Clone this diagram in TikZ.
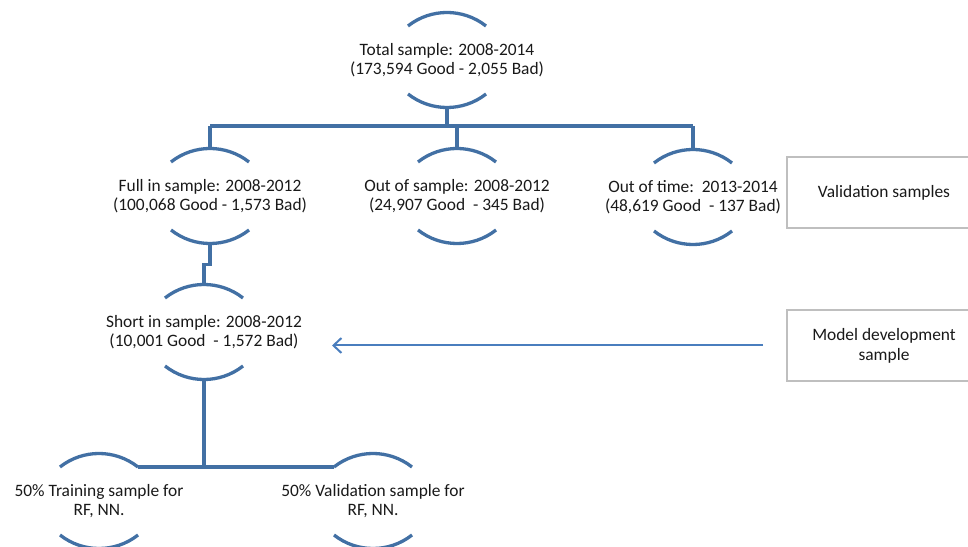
\documentclass[tikz,border=0pt]{standalone}
\usepackage{fontspec}
\setmainfont{Carlito}
\usetikzlibrary{calc,arrows.meta}
\definecolor{linkblue}{RGB}{66,112,164}
\definecolor{arrowblue}{RGB}{74,126,190}
\definecolor{boxgray}{RGB}{191,191,191}
\definecolor{txt}{RGB}{25,25,25}
\begin{document}
\begin{tikzpicture}[x=1pt,y=1pt,
  samp/.style={align=center, inner sep=0pt, minimum height=95pt, minimum width=80pt,
    text=txt, font=\fontsize{17.4}{18.6}\selectfont},
  infobox/.style={draw=boxgray, line width=1.3pt, minimum width=194pt, minimum height=71pt,
    align=center, text=txt, font=\fontsize{17.4}{20}\selectfont},
  link/.style={draw=linkblue, line width=3.3pt},
  arcline/.style={draw=linkblue, line width=3.3pt}]
\useasboundingbox (0,0) rectangle (968,546);
% sample nodes
\node[samp] (total) at (447,486) {Total sample: 2008-2014\\(173,594 Good - 2,055 Bad)};
\node[samp] (full)  at (210,350) {Full in sample: 2008-2012\\(100,068 Good - 1,573 Bad)};
\node[samp] (oos)   at (457,350) {Out of sample: 2008-2012\\(24,907 Good\ \ - 345 Bad)};
\node[samp] (oot)   at (693,349) {Out of time:\ \ 2013-2014\\(48,619 Good\ \ - 137 Bad)};
\node[samp] (short) at (204,214) {Short in sample: 2008-2012\\(10,001 Good\ \ - 1,572 Bad)};
\node[samp] (train) at (99,45)   {50\% Training sample for\\RF, NN.};
\node[samp] (valn)  at (373,45)  {50\% Validation sample for\\RF, NN.};
% arcs above and below each sample node
\foreach \n in {total,full,oos,oot,short,train,valn}{
  \draw[arcline] ($(\n.center)+(39,34)$) arc[start angle=51.8, end angle=128.2, radius=63.1];
  \draw[arcline] ($(\n.center)+(-39,-34)$) arc[start angle=231.8, end angle=308.2, radius=63.1];
}
% boxes on the right
\node[infobox] (valbox) at (884,353.5) {Validation samples};
\node[infobox] (modbox) at (884,200.5) {Model development\\sample};
% connectors
\coordinate (busL) at (210,420);
\coordinate (busR) at (693,420);
\draw[link] (total.south) -- (total.south |- busL);
\draw[link] (busL) -- (busR);
\draw[link] (busL) -- (full.north);
\draw[link] (busR) -- (oot.north);
\draw[link] (oos.north |- busL) -- (oos.north);
\draw[link] (full.south) -- ++(0,-21) -| (short.north);
\coordinate (trainR) at ($(train.center)+(39,34)$);
\coordinate (valnL) at ($(valn.center)+(-39,34)$);
\draw[link] (trainR) -- (valnL);
\draw[link] (short.south) -- (short.south |- trainR);
% arrow from model development sample
\coordinate (arrS) at (763,200.5);
\coordinate (arrE) at (332,200.5);
\draw[draw=arrowblue, line width=2pt, -{Straight Barb[length=8pt,width=15pt]}] (arrS) -- (arrE);
\end{tikzpicture}
\end{document}
